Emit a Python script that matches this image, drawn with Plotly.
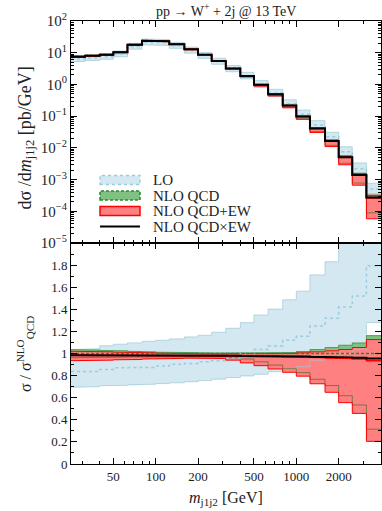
import plotly.graph_objects as go

# m_j1j2 bin edges [GeV] (22 log-spaced bins)
EDGES = [25, 31.5, 40, 50, 63, 80, 100, 125, 160, 200, 250, 315,
         400, 500, 630, 800, 1000, 1250, 1600, 2000, 2500, 3150, 4000]

# NLO QCD central value dsigma/dm [pb/GeV]
NLO_QCD = [7.61, 8.12, 8.73, 10.46, 18.09, 24.4, 23.3, 18.7, 13.0, 8.77, 5.61,
           3.22, 1.88, 0.993, 0.502, 0.2205, 0.0997, 0.0422, 0.01694, 0.00528,
           0.001455, 0.000283]

# everything below is a ratio to the NLO QCD central value
LO_C = [0.838, 0.838, 0.856, 0.871, 0.868, 0.874, 0.886, 0.902, 0.91, 0.925, 0.935,
        0.96, 1.0, 1.036, 1.068, 1.12, 1.156, 1.249, 1.32, 1.42, 1.52, 1.795]
LO_UP = [1.036, 1.042, 1.07, 1.084, 1.096, 1.11, 1.12, 1.132, 1.15, 1.165, 1.192,
         1.228, 1.279, 1.348, 1.402, 1.486, 1.564, 1.711, 1.83, 2.05, 2.3, 2.7]
LO_DN = [0.695, 0.70, 0.708, 0.712, 0.716, 0.722, 0.728, 0.735, 0.745, 0.755, 0.768,
         0.782, 0.797, 0.812, 0.835, 0.858, 0.88, 0.94, 0.97, 1.0, 1.04, 1.28]

QCD_UP = [1.035, 1.032, 1.028, 1.025, 1.02, 1.015, 1.012, 1.01, 1.008, 1.006, 1.005,
          1.005, 1.005, 1.005, 1.006, 1.009, 1.018, 1.036, 1.054, 1.075, 1.096, 1.162]
QCD_DN = [0.962, 0.963, 0.965, 0.967, 0.969, 0.97, 0.972, 0.973, 0.973, 0.972, 0.97,
          0.962, 0.95, 0.925, 0.895, 0.862, 0.827, 0.767, 0.71, 0.618, 0.534, 0.315]

EWADD_C = [0.984, 0.984, 0.984, 0.984, 0.983, 0.982, 0.982, 0.981, 0.98, 0.979, 0.978,
           0.977, 0.975, 0.973, 0.971, 0.969, 0.966, 0.964, 0.96, 0.955, 0.95, 0.935]
EWADD_UP = [1.02, 1.018, 1.015, 1.012, 1.01, 1.006, 1.003, 1.0, 0.998, 0.996, 0.995,
            0.995, 0.995, 0.996, 0.998, 1.0, 1.006, 1.015, 1.024, 1.036, 1.054, 1.126]
EWADD_DN = [0.935, 0.937, 0.94, 0.943, 0.946, 0.95, 0.953, 0.956, 0.958, 0.958, 0.955,
            0.94, 0.915, 0.89, 0.86, 0.83, 0.795, 0.726, 0.649, 0.555, 0.458, 0.205]

EWMUL_C = [0.985, 0.985, 0.985, 0.985, 0.984, 0.983, 0.983, 0.982, 0.982, 0.981, 0.98,
           0.979, 0.978, 0.977, 0.976, 0.975, 0.973, 0.971, 0.968, 0.965, 0.962, 0.955]

LOG_TICKS = [1e-5, 1e-4, 1e-3, 1e-2, 1e-1, 1, 10, 100]
LOG_TEXT = ["10<sup>−5</sup>", "10<sup>−4</sup>", "10<sup>−3</sup>", "10<sup>−2</sup>",
            "10<sup>−1</sup>", "10<sup>0</sup>", "10<sup>1</sup>", "10<sup>2</sup>"]
X_TICKS = [50, 100, 200, 500, 1000, 2000]
X_MINOR = [30, 40, 60, 70, 80, 90, 300, 400, 600, 700, 800, 900, 3000]

FONT = "Liberation Serif"
C = {
    "lo_fill": "#d3e8f0", "lo_line": "rgba(150,200,220,0.9)", "lo_edge": "rgba(160,200,215,0.7)",
    "qcd_fill": "#80c080", "qcd_line": "#2a8a2a", "qcd_edge": "rgba(0,100,0,0.5)",
    "ew_fill": "#ff8080", "ew_line": "#ff0000",
    "black": "#000000",
}

W, H = 382, 511
PLOT_L, PLOT_R, PLOT_T, PLOT_B = 71, 381, 21, 464
SPLIT = 243  # pixel row where the two panels meet


def steps(vals):
    xs, ys = [], []
    for i, v in enumerate(vals):
        xs += [EDGES[i], EDGES[i + 1]]
        ys += [v, v]
    return xs, ys


def scaled(ratio, ref):
    return [r * n for r, n in zip(ratio, ref)]


def band(fig, up, dn, fill, xa, ya):
    xu, yu = steps(up)
    xd, yd = steps(dn)
    fig.add_trace(go.Scatter(x=xu + xd[::-1], y=yu + yd[::-1], fill="toself", fillcolor=fill,
                             mode="none", hoverinfo="skip", showlegend=False, xaxis=xa, yaxis=ya))


def line(fig, vals, color, width, dash, xa, ya):
    xs, ys = steps(vals)
    fig.add_trace(go.Scatter(x=xs, y=ys, mode="lines", line={"color": color, "width": width, "dash": dash},
                             hoverinfo="skip", showlegend=False, xaxis=xa, yaxis=ya))


def panel(fig, ref, xa, ya):
    # ref converts a ratio array to what this panel plots
    band(fig, ref(LO_UP), ref(LO_DN), C["lo_fill"], xa, ya)
    band(fig, ref(QCD_UP), ref(QCD_DN), C["qcd_fill"], xa, ya)
    band(fig, ref(EWADD_UP), ref(EWADD_DN), C["ew_fill"], xa, ya)
    for arr in (LO_UP, LO_DN):
        line(fig, ref(arr), C["lo_edge"], 1, "solid", xa, ya)
    for arr in (QCD_UP, QCD_DN):
        line(fig, ref(arr), C["qcd_edge"], 1, "solid", xa, ya)
    for arr in (EWADD_UP, EWADD_DN):
        line(fig, ref(arr), C["ew_line"], 1, "solid", xa, ya)
    line(fig, ref(LO_C), C["lo_line"], 1.5, "dot", xa, ya)
    line(fig, ref([1.0] * len(NLO_QCD)), C["qcd_line"], 1.5, "3px,2px", xa, ya)
    line(fig, ref(EWADD_C), C["ew_line"], 1.5, "solid", xa, ya)
    line(fig, ref(EWMUL_C), C["black"], 2, "solid", xa, ya)


fig = go.Figure()
panel(fig, lambda r: scaled(r, NLO_QCD), "x2", "y2")
panel(fig, lambda r: list(r), "x", "y")

plot_h = PLOT_B - PLOT_T
plot_w = PLOT_R - PLOT_L
split = (PLOT_B - SPLIT) / plot_h


def px(x):
    return (x - PLOT_L) / plot_w


def py(y):
    return (PLOT_B - y) / plot_h


axis_common = dict(
    showline=True, linecolor="black", linewidth=1, mirror="ticks",
    ticks="inside", ticklen=6, tickcolor="black", showgrid=False, zeroline=False,
    tickfont={"family": FONT, "size": 13, "color": "#222"},
)
x_common = dict(
    axis_common, type="log", range=[1.39794, 3.60206], tickvals=X_TICKS,
    minor={"tickvals": X_MINOR, "ticks": "inside", "ticklen": 3, "tickcolor": "black"},
)

fig.update_layout(
    width=W, height=H,
    margin={"l": PLOT_L, "r": W - PLOT_R, "t": PLOT_T, "b": H - PLOT_B},
    paper_bgcolor="white", plot_bgcolor="white",
    font={"family": FONT, "color": "#222"},
    showlegend=False,
    xaxis=dict(x_common, anchor="y", domain=[0, 1], ticktext=[str(v) for v in X_TICKS]),
    xaxis2=dict(x_common, anchor="y2", domain=[0, 1], matches="x", showticklabels=False),
    yaxis=dict(axis_common, anchor="x", domain=[0, split], range=[0, 2],
               tickvals=[0, 0.2, 0.4, 0.6, 0.8, 1, 1.2, 1.4, 1.6, 1.8],
               ticktext=["0", "0.2", "0.4", "0.6", "0.8", "1", "1.2", "1.4", "1.6", "1.8"],
               minor={"dtick": 0.1, "ticks": "inside", "ticklen": 3, "tickcolor": "black"}),
    yaxis2=dict(axis_common, anchor="x2", domain=[split, 1], type="log", range=[-5, 2],
                tickvals=LOG_TICKS, ticktext=LOG_TEXT,
                tickfont={"family": FONT, "size": 15, "color": "#222"},
                minor={"dtick": "D1", "ticks": "inside", "ticklen": 3, "tickcolor": "black"}),
)

ann_font = {"family": FONT, "size": 15, "color": "#222"}
annotations = [
    dict(text="pp → W<sup>+</sup> + 2j @ 13 TeV", x=0.5, y=py(10), font={"family": FONT, "size": 14, "color": "#222"}),
    dict(text="dσ /d<i>m</i><sub>j1j2</sub> [pb/GeV]", x=px(12), y=py(138), textangle=-90,
         font={"family": FONT, "size": 18, "color": "#222"}),
    dict(text="σ / σ<sup>NLO</sup><sub>QCD</sub>", x=px(12), y=py(354), textangle=-90,
         font={"family": FONT, "size": 16, "color": "#222"}),
    dict(text="<i>m</i><sub>j1j2</sub> [GeV]", x=0.5, y=py(499), font={"family": FONT, "size": 16, "color": "#222"}),
]

# legend drawn by hand so the sample boxes match the reference
legend_rows = [
    ("LO", 180, C["lo_fill"], C["lo_line"], "dot"),
    ("NLO QCD", 195.5, C["qcd_fill"], C["qcd_line"], "3px,2px"),
    ("NLO QCD+EW", 211, C["ew_fill"], C["ew_line"], "solid"),
    ("NLO QCD×EW", 226.5, None, C["black"], "solid"),
]
shapes = []
for label, yc, fill, lc, dash in legend_rows:
    if fill:
        shapes.append(dict(type="rect", xref="paper", yref="paper", x0=px(100), x1=px(140),
                           y0=py(yc + 4.5), y1=py(yc - 4.5), fillcolor=fill,
                           line={"color": lc, "width": 1.5, "dash": dash}))
    else:
        shapes.append(dict(type="line", xref="paper", yref="paper", x0=px(100), x1=px(140),
                           y0=py(yc), y1=py(yc), line={"color": lc, "width": 2}))
    annotations.append(dict(text=label, x=px(151), y=py(yc), xanchor="left", font=ann_font))

for a in annotations:
    a.setdefault("xref", "paper")
    a.setdefault("yref", "paper")
    a.setdefault("showarrow", False)
    a.setdefault("yanchor", "middle")
fig.update_layout(annotations=annotations, shapes=shapes)

# the page body's default 8px margin would push the figure off the window
fig.write_html(
    "out.html",
    config={"displayModeBar": False},
    post_script="document.body.style.margin='0';document.body.style.overflow='hidden';",
)
